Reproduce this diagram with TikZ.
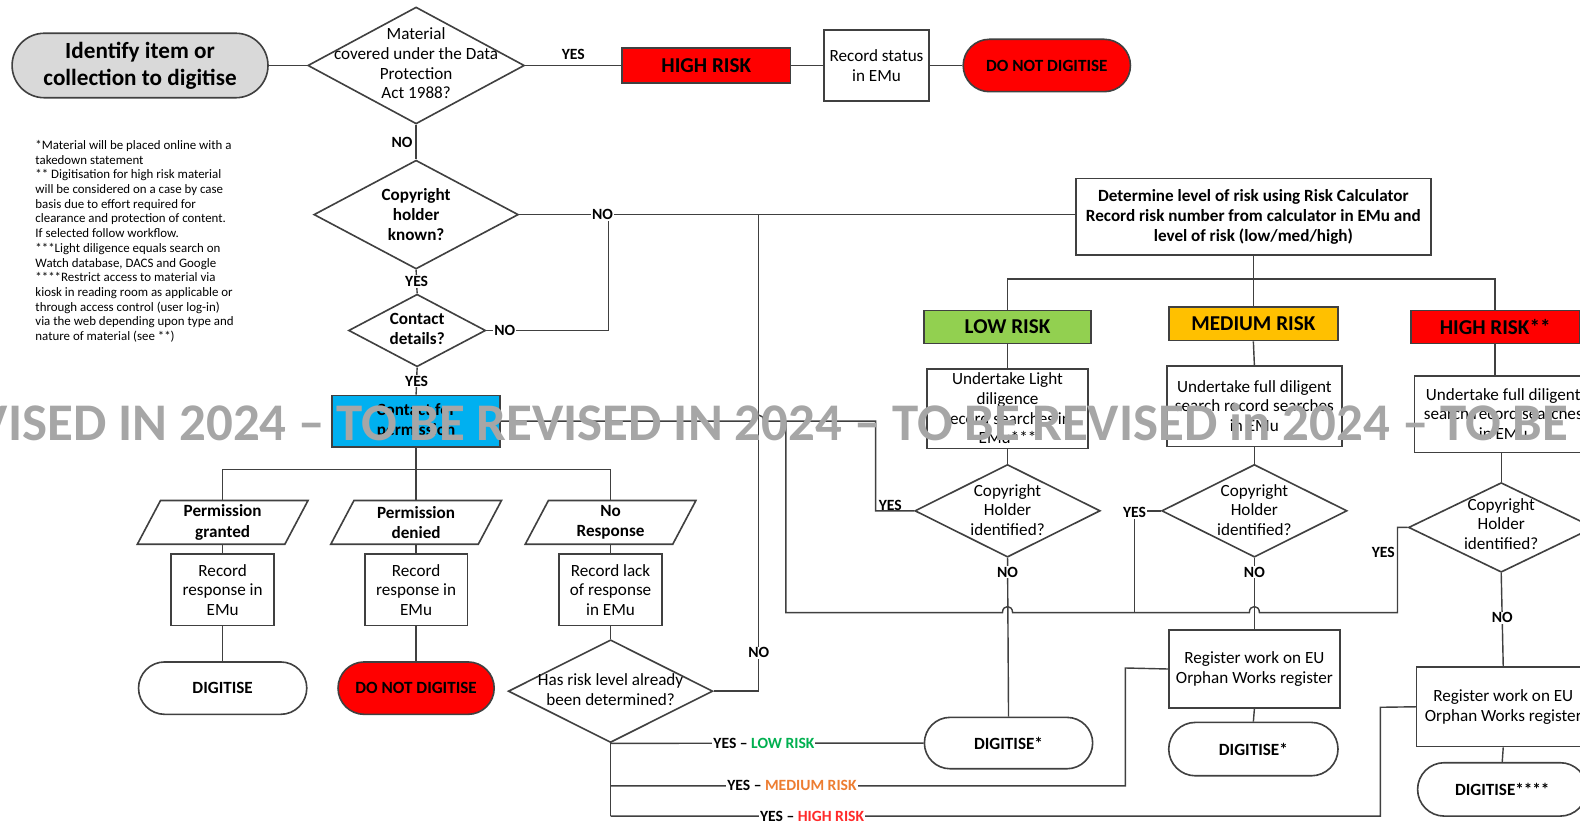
\documentclass[tikz,border=0pt]{standalone}
\usepackage{fontspec}
\setmainfont{Carlito}
\usetikzlibrary{shapes.geometric,shapes.misc}
\definecolor{ln}{HTML}{404040}
\definecolor{myred}{HTML}{FF0000}
\definecolor{mygreen}{HTML}{92D050}
\definecolor{myamber}{HTML}{FFC000}
\definecolor{myblue}{HTML}{00B0F0}
\definecolor{mygrey}{HTML}{D9D9D9}
\definecolor{wmgrey}{HTML}{A6A6A6}
\definecolor{lowtxt}{HTML}{00B050}
\definecolor{medtxt}{HTML}{ED7D31}
\definecolor{hightxt}{HTML}{FF2A2A}
\begin{document}
\begin{tikzpicture}[x=1pt,y=-1pt,
  conn/.style={draw=ln, line width=1.4pt},
  shapeline/.style={draw=ln, line width=1.6pt},
  base/.style={draw=ln, line width=1.6pt, inner sep=0pt, align=center, font=\fontsize{17}{19.5}\selectfont},
  boxn/.style={base, rectangle},
  bigbold/.style={font=\bfseries\fontsize{21}{24}\selectfont},
  term/.style={base, rounded rectangle, font=\bfseries\fontsize{17}{20}\selectfont},
  dia/.style={diamond, draw=ln, line width=1.6pt, inner sep=0pt},
  dtxt/.style={align=center, inner sep=0pt, font=\fontsize{17}{19.5}\selectfont},
  dtxtb/.style={align=center, inner sep=0pt, font=\bfseries\fontsize{17}{19.5}\selectfont},
  ptxt/.style={rectangle, inner sep=0pt, minimum width=146pt, minimum height=43pt, align=center, font=\bfseries\fontsize{17}{20}\selectfont},
  lab/.style={font=\bfseries\fontsize{15.5}{17}\selectfont, inner sep=1pt, fill=white},
  labn/.style={font=\bfseries\fontsize{15.5}{17}\selectfont, inner sep=1pt},
  wmk/.style={font=\bfseries\fontsize{52.5}{60}\selectfont, text=wmgrey, inner sep=0pt}
]
\useasboundingbox (0,0) rectangle (1568.2,818.8);
\fill[white] (0,0) rectangle (1580,825);
\clip (0,0) rectangle (1580,825);

% ---------- top row ----------
\node[term, fill=mygrey, minimum width=254pt, minimum height=64pt, font=\bfseries\fontsize{23}{27}\selectfont] (start) at (139,65) {Identify item or\\collection to digitise};
\node[dia, minimum width=215pt, minimum height=116pt] (q1) at (413,65) {};
\node[dtxt] (q1t) at (413,63) {Material\\covered under the Data\\Protection\\Act 1988?};
\node[boxn, fill=myred, minimum width=167pt, minimum height=35pt, bigbold] (hr1) at (701,65) {HIGH RISK};
\node[boxn, minimum width=104pt, minimum height=70pt] (rs) at (870,65) {Record status\\in EMu};
\node[term, fill=myred, minimum width=166pt, minimum height=52pt] (dnd1) at (1039,65) {DO NOT DIGITISE};

\draw[conn] (start.east) -- (q1.west);
\draw[conn] (q1.east) -- node[labn, above=4pt]{YES} (hr1.west);
\draw[conn] (hr1.east) -- (rs.west);
\draw[conn] (rs.east) -- (dnd1.west);

% ---------- left column ----------
\node[dia, minimum width=203pt, minimum height=108pt] (q2) at (413,213) {};
\node[dtxtb] (q2t) at (413,213) {Copyright\\holder\\known?};
\node[dia, minimum width=136pt, minimum height=72pt] (q3) at (414,328) {};
\node[dtxtb] (q3t) at (414,326.5) {Contact\\details?};
\node[boxn, fill=myblue, minimum width=167pt, minimum height=51pt, font=\bfseries\fontsize{17}{20}\selectfont] (cp) at (413,418) {Contact for\\permission};

\draw[conn] (q1.south) -- node[labn, left=2pt]{NO} (q2.north);
\draw[conn] (q2.south) -- node[lab]{YES} (q3.north);
\draw[conn] (q3.south) -- node[lab]{YES} (cp.north);

\node[ptxt] (p1) at (221,518.5) {Permission\\granted};
\node[ptxt] (p2) at (413,518.5) {Permission\\denied};
\node[ptxt] (p3) at (606,518.5) {No\\Response};
\foreach \p in {p1,p2,p3}
  \draw[shapeline] ([xshift=-11.5pt]\p.south west) -- ([xshift=11.5pt]\p.north west) -- ([xshift=11.5pt]\p.north east) -- ([xshift=-11.5pt]\p.south east) -- cycle;

\node[boxn, minimum width=102pt, minimum height=71pt] (r1) at (221,585.5) {Record\\response in\\EMu};
\node[boxn, minimum width=102pt, minimum height=71pt] (r2) at (413,585.5) {Record\\response in\\EMu};
\node[boxn, minimum width=102pt, minimum height=71pt] (r3) at (606,585.5) {Record lack\\of response\\in EMu};

\node[term, minimum width=167pt, minimum height=52pt] (dg1) at (221,683) {DIGITISE};
\node[term, fill=myred, minimum width=155pt, minimum height=52pt] (dnd2) at (413,683) {DO NOT DIGITISE};
\node[dia, minimum width=203pt, minimum height=102pt] (q4) at (606,686) {};
\node[dtxt] (q4t) at (606,684.5) {Has risk level already\\been determined?};

\coordinate (br) at (413,466);
\draw[conn] (cp.south) -- (br);
\draw[conn] (p1.north) |- (br) -| (p3.north);
\draw[conn] (br) -- (p2.north);
\draw[conn] (p1.south) -- (r1.north);
\draw[conn] (p2.south) -- (r2.north);
\draw[conn] (p3.south) -- (r3.north);
\draw[conn] (r1.south) -- (dg1.north);
\draw[conn] (r2.south) -- (dnd2.north);
\draw[conn] (r3.south) -- (q4.north);

% ---------- right part ----------
\node[boxn, minimum width=352pt, minimum height=76pt, font=\bfseries\fontsize{17}{20}\selectfont] (det) at (1244,215) {Determine level of risk using Risk Calculator\\Record risk number from calculator in EMu and\\level of risk (low/med/high)};
\node[boxn, fill=mygreen, minimum width=166pt, minimum height=33pt, bigbold] (lr) at (1000,324.5) {LOW RISK};
\node[boxn, fill=myamber, minimum width=168pt, minimum height=33pt, bigbold] (mr) at (1244,321.5) {MEDIUM RISK};
\node[boxn, fill=myred, minimum width=167pt, minimum height=33pt, bigbold] (hr2) at (1484,324.5) {HIGH RISK**};

\node[boxn, minimum width=160pt, minimum height=79pt] (u1) at (1000,405.5) {Undertake Light\\diligence\\record searches in\\EMu***};
\node[boxn, minimum width=174pt, minimum height=80pt] (u2) at (1245,403) {Undertake full diligent\\search record searches\\in EMu};
\node[boxn, minimum width=176pt, minimum height=76pt] (u3) at (1492,411) {Undertake full diligent\\search record searches\\in EMu};

\node[dia, minimum width=184pt, minimum height=92pt] (d5) at (1000,507) {};
\node[dtxt] (d5t) at (1000,506) {Copyright\\Holder\\identified?};
\node[dia, minimum width=184pt, minimum height=92pt] (d6) at (1245,507) {};
\node[dtxt] (d6t) at (1245,506) {Copyright\\Holder\\identified?};
\node[dia, minimum width=184pt, minimum height=89pt] (d7) at (1490,523.5) {};
\node[dtxt] (d7t) at (1490,520) {Copyright\\Holder\\identified?};

\node[boxn, minimum width=170pt, minimum height=78pt] (o2) at (1245,664) {Register work on EU\\Orphan Works register};
\node[boxn, minimum width=172pt, minimum height=79pt] (o3) at (1492,701.5) {Register work on EU\\Orphan Works register};

\node[term, minimum width=167pt, minimum height=51pt] (g1) at (1001,737.5) {DIGITISE*};
\node[term, minimum width=168pt, minimum height=53pt] (g2) at (1244,743.5) {DIGITISE*};
\node[term, minimum width=168pt, minimum height=53pt] (g3) at (1491,783.5) {DIGITISE****};

% tree under det
\coordinate (rb) at (1244,277);
\draw[conn] (det.south) -- (mr.north);
\draw[conn] (lr.north) |- (rb) -| (hr2.north);
\draw[conn] (lr.south) -- (u1.north);
\draw[conn] (mr.south) -- (u2.north);
\draw[conn] (hr2.south) -- (hr2.south |- u3.north);
\draw[conn] (u1.south) -- (d5.north);
\draw[conn] (u2.south) -- (d6.north);
\draw[conn] (d7.north |- u3.south) -- (d7.north);
\draw[conn] (d5.south) -- node[lab, pos=0.09]{NO} (g1.north);
\draw[conn] (d6.south) -- node[lab, pos=0.2]{NO} (o2.north);
\draw[conn] (d7.south) -- node[lab, pos=0.48]{NO} (o3.north);
\draw[conn] (o2.south) -- (g2.north);
\draw[conn] (o3.south) -- (g3.north);

% NO branches to determine box
\coordinate (jA) at (604,213);
\coordinate (jB) at (753,213);
\draw[conn] (q2.east) -- (det.west |- q2.east);
\draw[conn] (q3.east) -| (jA);
\draw[conn] (q4.east) -| (jB);
\node[lab] (noA) at (598,213) {NO};
\node[lab] (noB) at (501,328) {NO};
\node[lab] (noC) at (753,648) {NO};

% YES network from contact for permission
\coordinate (y1) at (780,418);
\draw[conn] (cp.east) -- (748,418) .. controls (748,410) and (758,410) .. (758,418) -- (869,418) -- (869,507) -- (d5.west);
\node[labn, anchor=south west] (yesA) at (871,508) {YES};
\draw[conn] (y1) -- (780,608) -- (995,608) .. controls (995,600) and (1005,600) .. (1005,608) -- (1240,608) .. controls (1240,600) and (1250,600) .. (1250,608) -- (1387,608) -- (1387,523.5) -- (d7.west);
\draw[conn] (1126,608) -- (1126,507) -- (d6.west);
\node[lab] (yesB) at (1126,509) {YES};
\node[lab] (yesC) at (1373,548) {YES};

% bottom YES lines from q4
\draw[conn] (q4.south) -- (606,810);
\draw[conn] (q4.south) -- node[lab, pos=0.49]{YES -- \textcolor{lowtxt}{LOW RISK}} (g1.west);
\draw[conn] (606,780) -- (1117,780) -- (1117,663) -- (o2.west);
\node[lab] (yesM) at (786,780) {YES -- \textcolor{medtxt}{MEDIUM RISK}};
\draw[conn] (606,810) -- (1370,810) -- (1370,702) -- (o3.west);
\node[lab] (yesH) at (806,810) {YES -- \textcolor{hightxt}{HIGH RISK}};

% footnotes
\node[anchor=north west, align=left, inner sep=0pt, font=\fontsize{12.8}{14.6}\selectfont] (notes) at (35,139) {*Material will be placed online with a\\takedown statement\\** Digitisation for high risk material\\will be considered on a case by case\\basis due to effort required for\\clearance and protection of content.\\If selected follow workflow.\\***Light diligence equals search on\\Watch database, DACS and Google\\****Restrict access to material via\\kiosk in reading room as applicable or\\through access control (user log-in)\\via the web depending upon type and\\nature of material (see **)};

% watermark
\node[wmk, anchor=base west] (wm) at (473,437) {\llap{TO BE REVISED IN 2024 -- TO BE\ }REVISED IN 2024 -- TO BE REVISED in 2024 -- TO BE REVISED};
\end{tikzpicture}
\end{document}
